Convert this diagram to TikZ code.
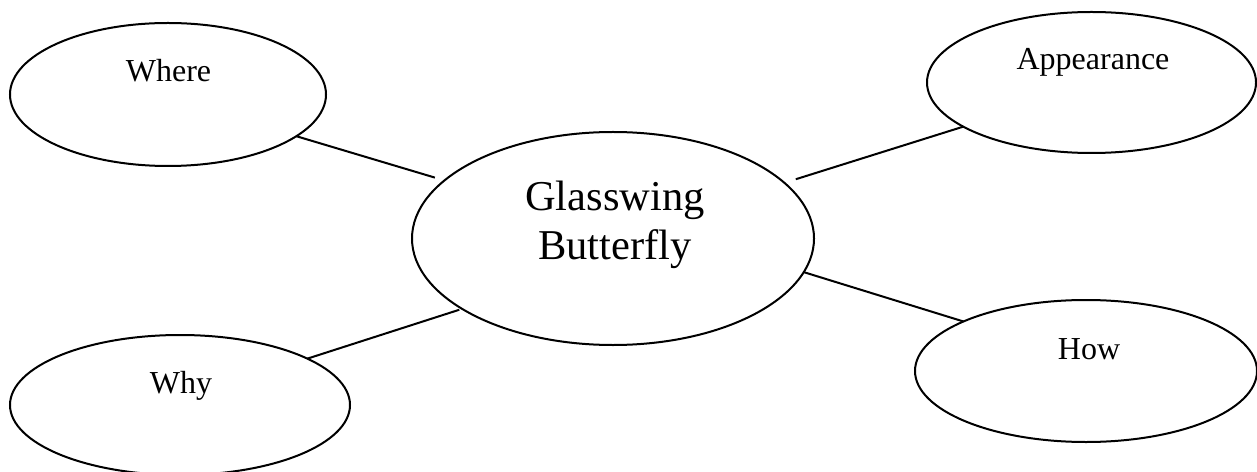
\documentclass[tikz,border=0pt]{standalone}
\usepackage{fontspec}
\setmainfont{Liberation Serif}
\usetikzlibrary{shapes.geometric}
\begin{document}
\begin{tikzpicture}[x=0.4pt,y=-0.4pt,
  bubble/.style={draw, ellipse, line width=0.8pt, inner sep=0pt, outer sep=0pt},
  link/.style={line width=0.8pt},
  small/.style={font=\fontsize{12.8}{14}\selectfont, anchor=base, inner sep=0pt},
  big/.style={font=\fontsize{17}{19.6}\selectfont, align=center, anchor=base, inner sep=0pt}]
\useasboundingbox (0,0) rectangle (1257,472);
% ellipses
\node[bubble, minimum width=126.4pt, minimum height=57.2pt] (where) at (168,94.5) {};
\node[bubble, minimum width=131.6pt, minimum height=56.4pt] (appear) at (1091.5,82.5) {};
\node[bubble, minimum width=160.8pt, minimum height=85.2pt] (glass) at (613,238.5) {};
\node[bubble, minimum width=136pt, minimum height=56pt] (why) at (180,405) {};
\node[bubble, minimum width=136.8pt, minimum height=56.8pt] (how) at (1086,371) {};
% texts
\node[small] (where-t) at (168.5,82) {Where};
\node[small] (appear-t) at (1093,70) {Appearance};
\node[small] (why-t) at (181,393) {Why};
\node[small] (how-t) at (1089,359) {How};
\node[big] (glass-t) at (615,260) {Glasswing\\Butterfly};
% connectors
\draw[link, shorten >=4pt] (where.-18) -- (glass.161);
\draw[link, shorten <=4.8pt] (glass.18) -- (appear.199);
\draw[link, shorten >=1.2pt] (why.20.6) -- (glass.205);
\draw[link] (glass.-10) -- (how.158.4);
\end{tikzpicture}
\end{document}
